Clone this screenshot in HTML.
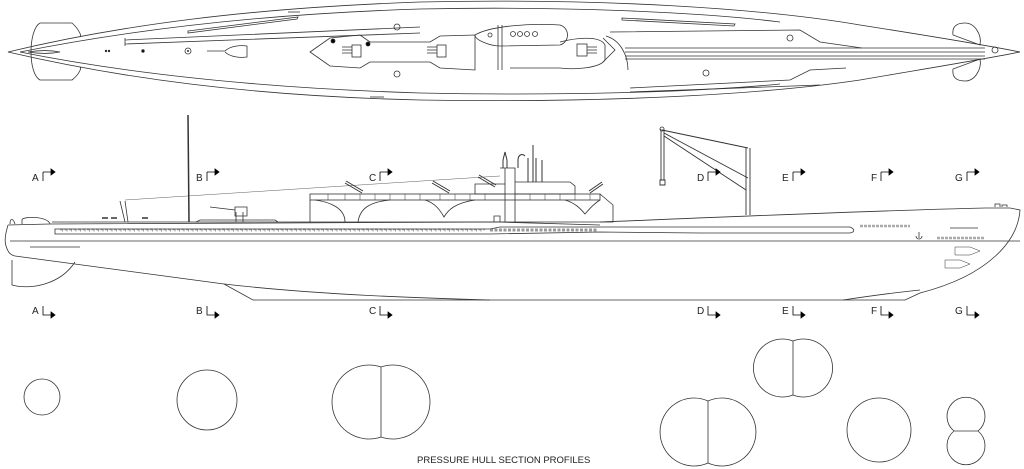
<!DOCTYPE html>
<html><head><meta charset="utf-8"><style>
html,body{margin:0;padding:0;background:#fff;}
svg{display:block}
text{font-family:"Liberation Sans",sans-serif;font-size:10px;fill:#222}
</style></head><body>
<svg width="1024" height="469" viewBox="0 0 1024 469" xmlns="http://www.w3.org/2000/svg" fill="none" stroke="#333" stroke-width="0.8">
<!-- TOP VIEW -->
<path d="M8,52 C120,25 250,8 420,2 C600,-2 760,8 860,25 C930,36 980,44 1020,52 C980,60 930,68 860,80 C760,95 600,103 420,100 C250,96 120,78 8,52 Z"/>
<path d="M20,52 C130,30 260,14 420,9 C560,6 700,12 780,22"/>
<path d="M20,52 C130,74 260,88 420,93 C560,96 700,92 780,84"/>
<path d="M28,52 C40,50 50,50 60,52 C50,54 40,54 28,52Z"/>
<path d="M40,23 H72 C80,30 82,38 80,36 M40,23 C28,30 28,74 40,80 H72 C80,74 82,66 80,68"/>
<path d="M188,31 L298,17 L297,19 L188,33Z"/>
<path d="M125,40 L420,27 M125,44 L420,33 M125,38 V46"/>
<circle cx="106" cy="51" r="0.8" fill="#000"/><circle cx="109" cy="51" r="0.8" fill="#000"/>
<circle cx="143" cy="51" r="1.3" fill="#000"/>
<circle cx="188" cy="51" r="3"/><circle cx="188" cy="51" r="0.6" fill="#000"/>
<path d="M207,51 H225 C230,46 240,45 247,46 V57 C240,58 230,57 225,52"/>
<circle cx="397" cy="27" r="3"/><circle cx="397" cy="74" r="3"/>
<path d="M310,52 L330,38 L360,35 L370,42 L430,42 L440,36 L475,35 L475,70 L440,68 L430,62 L370,62 L360,68 L330,66Z"/>
<circle cx="333" cy="41" r="2" fill="#000"/><circle cx="368" cy="44" r="2" fill="#000"/>
<rect x="352" y="45" width="9" height="12"/><path d="M342,47h10M342,50h10M342,53h10"/>
<rect x="437" y="45" width="9" height="12"/><path d="M427,47h10M427,50h10M427,53h10"/>
<path d="M475,35 C490,26 530,23 560,25 C570,28 570,42 560,45 L500,46 C490,46 475,40 475,35Z"/>
<path d="M498,25 V70 M502,25 V70"/>
<circle cx="513" cy="34" r="2.5"/><circle cx="520" cy="34" r="2.5"/><circle cx="527" cy="34" r="2.5"/><circle cx="535" cy="34" r="2.5"/><circle cx="490" cy="35" r="2"/>
<path d="M560,42 C575,38 600,35 605,45 V60 C600,68 575,70 560,68 L510,68"/>
<rect x="577" y="44" width="10" height="12"/><path d="M587,47h10M587,50h10M587,53h10"/>
<path d="M603,38 L615,50 L603,62 M606,36 C620,40 628,55 628,70"/>
<path d="M625,52 H985 M625,56 H985 M625,48 H985 M625,59 H985"/>
<path d="M622,18 L735,24 L734,26 L622,20Z"/>
<path d="M610,32 L800,30 L820,42 L862,48"/>
<path d="M630,88 L790,80 L810,70 L846,68"/>
<path d="M630,92 L820,85"/>
<circle cx="790" cy="38" r="3"/><circle cx="706" cy="73" r="3"/>
<path d="M965,23 C955,23 952,28 953,35 L980,45 C982,35 975,23 965,23 M965,81 C955,81 952,76 953,69 L980,59 C982,69 975,81 965,81"/>
<circle cx="995" cy="50" r="3"/>
<path d="M370,97h14"/><path d="M288,12h12"/>

<!-- SIDE VIEW -->
<path d="M10,241 H1020"/>
<path d="M8,225 C6,232 4,240 6,246 C8,252 10,255 15,256"/>
<path d="M8,225 L50,224 L498,222 L600,222 C700,218 860,211 985,208 L1010,208 L1020,210 C1018,240 990,275 920,293 L905,300 L253,300 L224,284 L15,256"/>
<path d="M224,284 C320,295 420,298 490,300"/>
<path d="M843,300 C870,296 900,292 920,290"/>
<path d="M12,260 V285 C30,290 60,285 75,262"/>
<path d="M10,224 C10,218 13,218 15,224 M22,224 V220 C22,216 48,216 50,224"/>
<path d="M52,222 H498 L600,225 M55,229 H490 L500,227 L600,227 L700,227 L850,227 C855,229 855,232 850,233 L700,233 L600,232 L490,234 L55,234Z"/>
<path d="M60,230 H485" stroke-dasharray="3,1.5" stroke-width="3" stroke="#555" opacity="0.6"/>
<path d="M60,231 H485" stroke="#fff" stroke-width="1.4" stroke-dasharray="2,2.5"/>
<path d="M490,230 H597" stroke-dasharray="3,1.5" stroke-width="3" stroke="#555" opacity="0.6"/>
<path d="M860,226 H910 M937,238 H985" stroke-dasharray="3,1" stroke-width="2.5" stroke="#555" opacity="0.5"/>
<path d="M950,228 H978"/>
<path d="M30,247 H80"/>
<path d="M120,201 L125,222 M128,222 L125,201"/>
<path d="M125,200 L500,176" stroke-width="0.4"/>
<path d="M188,115 L189,222" stroke-width="1.5"/>
<path d="M196,222 L200,220 L275,220 L278,222"/>
<path d="M210,207 L235,210 M235,207 h12 v9 h-12 Z M236,212 V222 M243,212 V222"/>
<path d="M102,218 h6 M111,218 h6 M142,218 h6" stroke-width="1.5"/>
<rect x="310" y="194" width="290" height="6"/>
<path d="M310,200 V222 M600,194 L613,205 V222 L600,222"/>
<path d="M345,222 C345,208 330,202 315,200 M358,222 C360,208 370,202 390,200 M425,200 C435,203 440,210 444,217 C448,210 455,203 475,200 M565,200 C575,203 580,208 585,214 C590,208 595,203 600,200"/>
<path d="M328,194 v6 M345,194 v6 M360,194 v6 M375,194 v6 M390,194 v6 M405,194 v6 M420,194 v6 M440,194 v6 M455,194 v6 M470,194 v6 M485,194 v6 M530,194 v6 M545,194 v6 M560,194 v6 M575,194 v6 M590,194 v6" stroke-width="0.5"/>
<path d="M345,183 L362,193 M346,181 L363,191 M432,183 L449,193 M433,181 L450,191 M478,177 L495,187 M479,175 L496,185 M590,193 L603,184 M589,191 L602,182" stroke-width="1"/>
<path d="M475,184 H505 V194 H475Z M500,168 H515 V222 M505,168 V222 M515,182 H570 L575,186 V194 H515"/>
<path d="M503,168 V160 L505,152 L507,160 V168 M518,168 V160 C518,155 522,153 525,156 M528,182 V158 M536,182 V158 M533,182 V145 M542,182 V160" stroke-width="1"/>
<path d="M494,222 V216 h6 v6"/>
<path d="M661,129 V180 M664,129 V180 M660,180 h5 v5 h-5Z M662,130 L748,148 M664,133 L748,178 M664,136 L746,190 M746,148 V215 M750,148 V215" stroke-width="0.9"/>
<circle cx="662" cy="129" r="2"/>
<path d="M916,236 a3,3 0 0 0 6,0 M919,232 v6"/>
<path d="M955,247 h15 l10,4 l-10,4 h-15Z M945,260 h15 l10,4 l-10,4 h-15Z" stroke-width="0.5"/>
<path d="M995,207 v-3 h5 v3 M1002,207 v-2 h5 v2"/>

<!-- section markers -->
<g stroke="#000" stroke-width="0.8">
<path d="M43,172 V181 M43,172 h8"/><path d="M51,169 l4,3 l-4,3z" fill="#000"/>
<path d="M207,172 V181 M207,172 h8"/><path d="M215,169 l4,3 l-4,3z" fill="#000"/>
<path d="M380,172 V181 M380,172 h8"/><path d="M388,169 l4,3 l-4,3z" fill="#000"/>
<path d="M708,172 V181 M708,172 h8"/><path d="M716,169 l4,3 l-4,3z" fill="#000"/>
<path d="M793,172 V181 M793,172 h8"/><path d="M801,169 l4,3 l-4,3z" fill="#000"/>
<path d="M881,172 V181 M881,172 h8"/><path d="M889,169 l4,3 l-4,3z" fill="#000"/>
<path d="M967,172 V181 M967,172 h8"/><path d="M975,169 l4,3 l-4,3z" fill="#000"/>
<path d="M43,306 V315 h8"/><path d="M51,312 l4,3 l-4,3z" fill="#000"/>
<path d="M207,306 V315 h8"/><path d="M215,312 l4,3 l-4,3z" fill="#000"/>
<path d="M380,306 V315 h8"/><path d="M388,312 l4,3 l-4,3z" fill="#000"/>
<path d="M708,306 V315 h8"/><path d="M716,312 l4,3 l-4,3z" fill="#000"/>
<path d="M793,306 V315 h8"/><path d="M801,312 l4,3 l-4,3z" fill="#000"/>
<path d="M881,306 V315 h8"/><path d="M889,312 l4,3 l-4,3z" fill="#000"/>
<path d="M967,306 V315 h8"/><path d="M975,312 l4,3 l-4,3z" fill="#000"/>
</g>
<g stroke="none">
<text x="32" y="181">A</text><text x="196" y="181">B</text><text x="369" y="181">C</text><text x="697" y="181">D</text><text x="782" y="181">E</text><text x="871" y="181">F</text><text x="955" y="181">G</text>
<text x="32" y="314">A</text><text x="196" y="314">B</text><text x="369" y="314">C</text><text x="697" y="314">D</text><text x="782" y="314">E</text><text x="871" y="314">F</text><text x="955" y="314">G</text>
<text x="417" y="463" style="font-size:9.5px">PRESSURE HULL SECTION PROFILES</text>
</g>

<!-- sections -->
<circle cx="42" cy="397" r="18"/>
<circle cx="207" cy="400" r="30"/>
<path d="M381,367 A37,37 0 1 0 381,437 A37,37 0 1 0 381,367 Z M381,367 V437"/>
<path d="M793,341 A29,29 0 1 0 793,395 A29,29 0 1 0 793,341 Z M793,341 V395"/>
<path d="M708,401 A34,34 0 1 0 708,463 A34,34 0 1 0 708,401 Z M708,401 V463"/>
<circle cx="879" cy="430" r="32"/>
<path d="M954,431 A19,19 0 1 1 978,431 A19,19 0 1 1 954,431 Z M954,431 H978"/>
</svg>
</body></html>
